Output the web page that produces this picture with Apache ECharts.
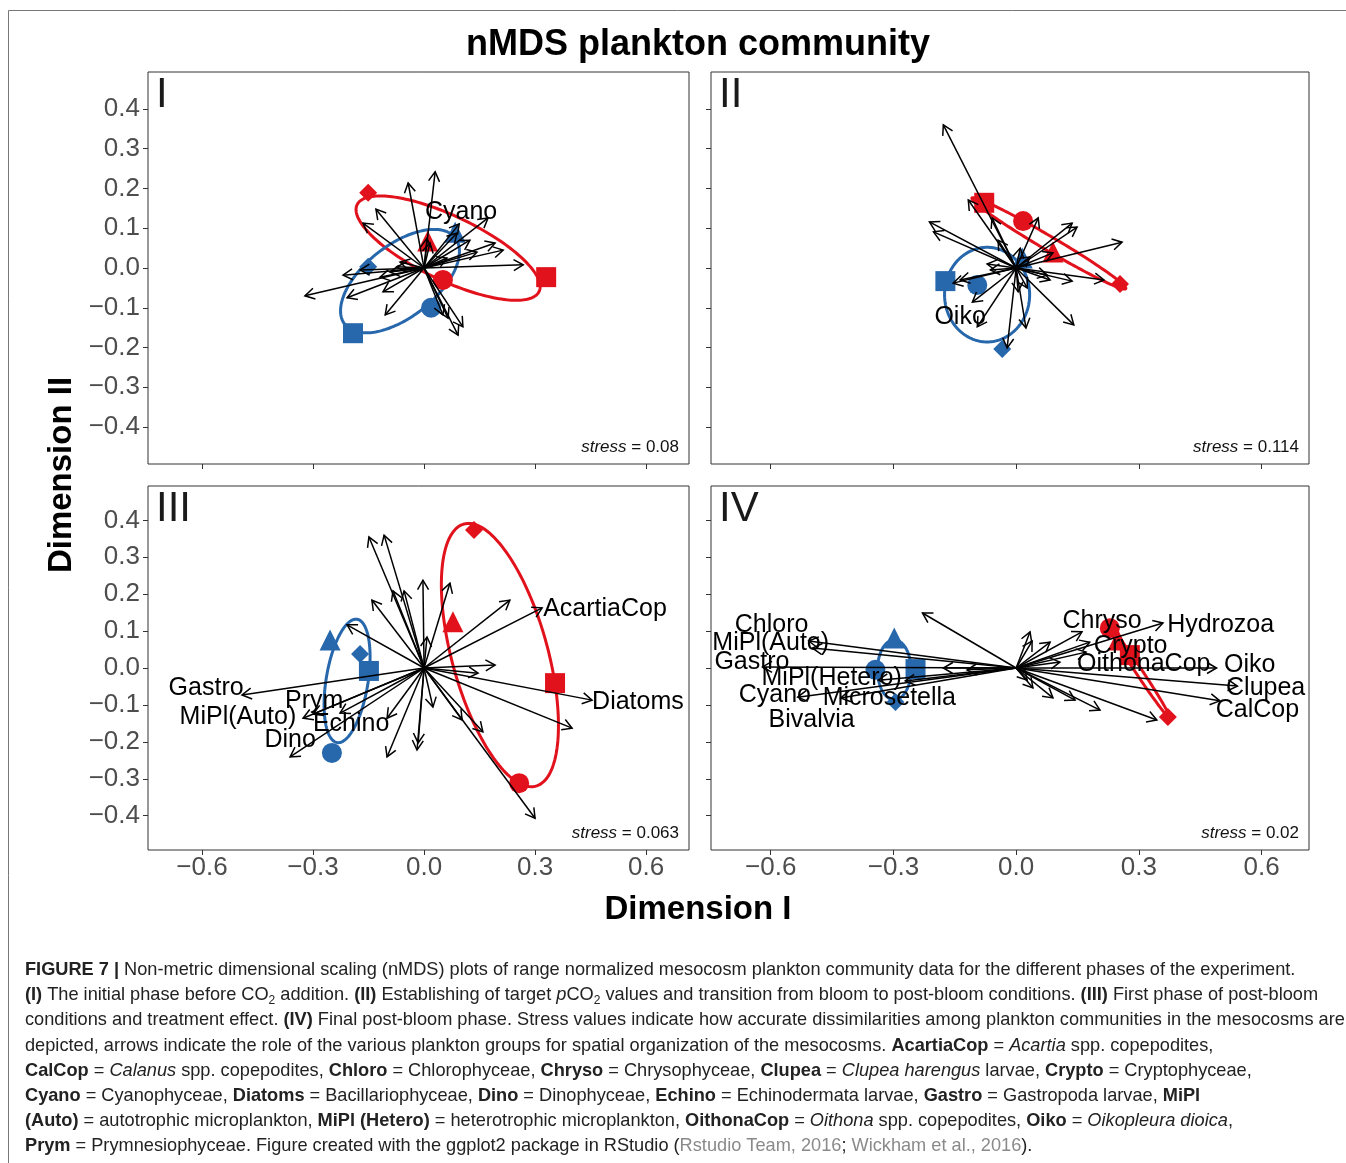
<!DOCTYPE html>
<html>
<head>
<meta charset="utf-8">
<script src="https://cdn.jsdelivr.net/npm/echarts@6/dist/echarts.min.js"></script>
<style>
html,body{margin:0;padding:0;background:#fff;}
#chart{width:1346px;height:1163px;}
</style>
</head>
<body>
<div id="chart"></div>
<script>
// ---------------- DATA ----------------
const xTicks = [-0.6, -0.3, 0, 0.3, 0.6];
const yTicks = [-0.4, -0.3, -0.2, -0.1, 0, 0.1, 0.2, 0.3, 0.4];
const xRange = [-0.746, 0.716];
const yRange = [-0.493, 0.493];
const panelNames = ['I', 'II', 'III', 'IV'];
const stressValues = ['0.08', '0.114', '0.063', '0.02'];
// point order: circle, square, triangle, diamond
const shapeOrder = ['circle', 'rect', 'triangle', 'diamond'];

// Panel I
const p1Blue = [[0.019, -0.100], [-0.192, -0.164], [0.084, 0.090], [-0.151, 0.003]];
const p1Red = [[0.051, -0.030], [0.330, -0.023], [0.010, 0.068], [-0.151, 0.189]];
const p1BlueEllipse = [-0.065, -0.033, 0.149, 0.109, 0.060, -0.071];
const p1RedEllipse = [0.065, 0.050, 0.246, -0.109, 0.037, 0.073];
const p1Arrows = [[0.030, 0.242], [-0.043, 0.214], [-0.130, 0.148], [-0.165, 0.113], [0.173, 0.126], [0.095, 0.111],
  [0.089, 0.088], [0.192, 0.063], [0.214, 0.045], [0.268, 0.008], [-0.219, -0.018], [-0.322, -0.070], [-0.208, -0.075],
  [-0.111, -0.060], [-0.105, -0.118], [0.065, -0.126], [0.105, -0.148], [0.092, -0.169], [0.051, -0.118], [-0.073, 0.003],
  [-0.119, -0.023], [0.062, 0.025], [0.143, 0.040], [0.016, 0.063], [-0.092, -0.010], [-0.065, 0.015], [0.124, 0.070],
  [0.008, 0.075], [-0.173, -0.005]];
const p1Labels = [['Cyano', 0.100, 0.141]];

// Panel II
const p2Blue = [[-0.095, -0.043], [-0.173, -0.033], [0.015, 0.025], [-0.034, -0.204]];
const p2Red = [[0.017, 0.118], [-0.078, 0.164], [0.090, 0.040], [0.254, -0.040]];
const p2BlueEllipse = [-0.071, -0.067, 0.104, 0, 0, 0.119];
const p2RedEllipse = [0.080, 0.062, 0.188, -0.114, -0.0087, -0.0151];
const p2Arrows = [[-0.178, 0.360], [-0.117, 0.171], [-0.212, 0.116], [-0.202, 0.091], [-0.059, 0.126], [-0.044, 0.070],
  [0.054, 0.126], [0.137, 0.113], [0.149, 0.103], [0.259, 0.065], [0.215, -0.030], [0.137, -0.033], [0.141, -0.143],
  [0.024, -0.151], [-0.022, -0.201], [-0.095, -0.148], [-0.107, -0.086], [-0.137, -0.030], [-0.154, -0.038],
  [-0.071, 0.010], [-0.063, -0.005], [0.083, -0.030], [0.027, -0.050], [0.090, 0.038], [0.010, 0.050], [0.034, 0.028],
  [0.076, -0.018], [0.005, -0.060]];
const p2Labels = [['Oiko', -0.137, -0.123]];

// Panel III
const p3Blue = [[-0.249, -0.230], [-0.149, -0.008], [-0.254, 0.076], [-0.173, 0.038]];
const p3Red = [[0.257, -0.312], [0.354, -0.041], [0.078, 0.125], [0.135, 0.374]];
const p3BlueEllipse = [-0.208, -0.035, 0.027, 0.167, 0.056, -0.009];
const p3RedEllipse = [0.205, 0.035, 0.097, -0.355, 0.125, 0.034];
const p3Arrows = [[-0.149, 0.355], [-0.108, 0.360], [-0.084, 0.209], [-0.054, 0.209], [-0.141, 0.184], [-0.208, 0.117],
  [-0.492, -0.073], [-0.327, -0.136], [-0.300, -0.125], [-0.362, -0.241], [-0.100, -0.136], [-0.100, -0.241],
  [-0.016, -0.203], [-0.003, 0.238], [0.070, 0.230], [0.232, 0.184], [0.319, 0.163], [0.192, 0.008], [0.146, -0.014],
  [0.454, -0.087], [0.400, -0.163], [0.300, -0.407], [0.159, -0.173], [0.103, -0.141], [0.024, -0.106], [0.008, 0.084],
  [-0.227, -0.122], [-0.019, -0.222]];
const p3Labels = [['Gastro', -0.589, -0.054], ['Prym', -0.297, -0.089], ['MiPl(Auto)', -0.503, -0.133],
  ['Echino', -0.197, -0.152], ['Dino', -0.362, -0.195], ['AcartiaCop', 0.489, 0.160], ['Diatoms', 0.578, -0.092]];

// Panel IV
const p4Blue = [[-0.344, -0.005], [-0.246, -0.003], [-0.298, 0.081], [-0.295, -0.092]];
const p4Red = [[0.229, 0.108], [0.278, 0.035], [0.249, 0.076], [0.371, -0.133]];
const p4BlueEllipse = [-0.298, -0.005, 0.041, 0, 0, 0.081];
const p4RedEllipse = [0.300, -0.009, 0.0756, -0.126, 0.006, 0.006];
const p4Arrows = [[-0.507, 0.073], [-0.498, 0.054], [-0.620, 0.003], [-0.337, -0.033], [-0.534, -0.079], [-0.429, -0.081],
  [-0.229, 0.149], [-0.178, 0.000], [-0.120, -0.005], [-0.271, -0.035], [0.034, 0.098], [0.039, 0.073], [0.083, 0.070],
  [0.161, 0.098], [0.359, 0.122], [0.180, 0.070], [0.171, 0.043], [0.107, 0.016], [0.490, 0.000], [0.541, -0.049],
  [0.498, -0.089], [0.344, -0.141], [0.205, -0.114], [0.144, -0.087], [0.090, -0.081], [0.041, -0.054], [0.027, -0.033]];
const p4Labels = [['Chloro', -0.598, 0.117], ['MiPl(Auto)', -0.600, 0.068], ['Gastro', -0.646, 0.016],
  ['MiPl(Hetero)', -0.451, -0.027], ['Cyano', -0.590, -0.073], ['Microsetella', -0.310, -0.081],
  ['Bivalvia', -0.500, -0.141], ['Chryso', 0.210, 0.127], ['Hydrozoa', 0.500, 0.117], ['Crypto', 0.280, 0.060],
  ['OithonaCop', 0.312, 0.011], ['Oiko', 0.571, 0.008], ['Clupea', 0.610, -0.054], ['CalCop', 0.590, -0.114]];

const captionLines = [
  '{b|FIGURE 7 |} Non-metric dimensional scaling (nMDS) plots of range normalized mesocosm plankton community data for the different phases of the experiment.',
  '{b|(I)} The initial phase before CO{s|2} addition. {b|(II)} Establishing of target {i|p}CO{s|2} values and transition from bloom to post-bloom conditions. {b|(III)} First phase of post-bloom',
  'conditions and treatment effect. {b|(IV)} Final post-bloom phase. Stress values indicate how accurate dissimilarities among plankton communities in the mesocosms are',
  'depicted, arrows indicate the role of the various plankton groups for spatial organization of the mesocosms. {b|AcartiaCop} = {i|Acartia} spp. copepodites,',
  '{b|CalCop} = {i|Calanus} spp. copepodites, {b|Chloro} = Chlorophyceae, {b|Chryso} = Chrysophyceae, {b|Clupea} = {i|Clupea harengus} larvae, {b|Crypto} = Cryptophyceae,',
  '{b|Cyano} = Cyanophyceae, {b|Diatoms} = Bacillariophyceae, {b|Dino} = Dinophyceae, {b|Echino} = Echinodermata larvae, {b|Gastro} = Gastropoda larvae, {b|MiPl}',
  '{b|(Auto)} = autotrophic microplankton, {b|MiPl (Hetero)} = heterotrophic microplankton, {b|OithonaCop} = {i|Oithona} spp. copepodites, {b|Oiko} = {i|Oikopleura dioica},',
  '{b|Prym} = Prymnesiophyceae. Figure created with the ggplot2 package in RStudio ({g|Rstudio Team, 2016}; {g|Wickham et al., 2016}).'
];

// ---------------- STYLE / LAYOUT ----------------
const FONT = 'Liberation Sans, Arial, sans-serif';
const RED = '#e2121c';
const BLUE = '#2767ac';
const CAP = 18.2;
const grids = [
  {left: 148, top: 72, width: 541, height: 392},
  {left: 711, top: 72, width: 598, height: 392},
  {left: 148, top: 486, width: 541, height: 364},
  {left: 711, top: 486, width: 598, height: 364}
];
const panels = [
  {blue: p1Blue, red: p1Red, be: p1BlueEllipse, re: p1RedEllipse, arrows: p1Arrows, labels: p1Labels},
  {blue: p2Blue, red: p2Red, be: p2BlueEllipse, re: p2RedEllipse, arrows: p2Arrows, labels: p2Labels},
  {blue: p3Blue, red: p3Red, be: p3BlueEllipse, re: p3RedEllipse, arrows: p3Arrows, labels: p3Labels},
  {blue: p4Blue, red: p4Red, be: p4BlueEllipse, re: p4RedEllipse, arrows: p4Arrows, labels: p4Labels}
];

function fmt(v) {
  const s = Math.abs(v).toFixed(1);
  return (v < -1e-9 ? '\u2212' : '') + s;
}

const xAxes = grids.map((g, i) => ({
  type: 'value', gridIndex: i, min: xRange[0], max: xRange[1], position: 'bottom',
  axisLine: {show: false, onZero: false},
  splitLine: {show: false},
  axisTick: {show: true, length: 5, customValues: xTicks, lineStyle: {color: '#333', width: 1}},
  axisLabel: {show: i >= 2, customValues: xTicks, formatter: fmt, fontSize: 26, color: '#4d4d4d', fontFamily: FONT, margin: 5}
}));
const yAxes = grids.map((g, i) => ({
  type: 'value', gridIndex: i, min: yRange[0], max: yRange[1], position: 'left',
  axisLine: {show: false, onZero: false},
  splitLine: {show: false},
  axisTick: {show: true, length: 5, customValues: yTicks, lineStyle: {color: '#333', width: 1}},
  axisLabel: {show: i % 2 === 0, customValues: yTicks, formatter: fmt, fontSize: 26, color: '#4d4d4d', fontFamily: FONT, margin: 8}
}));

function ellipseSeries(params, color, idx) {
  return {
    type: 'custom', xAxisIndex: idx, yAxisIndex: idx, silent: true, z: 1,
    data: [params],
    renderItem: function (p, api) {
      const cx = api.value(0), cy = api.value(1);
      const c = api.coord([cx, cy]);
      const pu = api.coord([cx + api.value(2), cy + api.value(3)]);
      const pv = api.coord([cx + api.value(4), cy + api.value(5)]);
      const du = [pu[0] - c[0], pu[1] - c[1]], dv = [pv[0] - c[0], pv[1] - c[1]];
      const pts = [];
      for (let k = 0; k < 180; k++) {
        const t = k / 180 * Math.PI * 2;
        pts.push([c[0] + du[0] * Math.cos(t) + dv[0] * Math.sin(t), c[1] + du[1] * Math.cos(t) + dv[1] * Math.sin(t)]);
      }
      return {type: 'polygon', shape: {points: pts}, style: {stroke: color, fill: null, lineWidth: 3}};
    }
  };
}

function pointSeries(data, color, idx) {
  return {
    type: 'scatter', xAxisIndex: idx, yAxisIndex: idx, silent: true, z: 2,
    data: data,
    symbol: function (v, p) { return shapeOrder[p.dataIndex]; },
    symbolSize: function (v, p) { return [20, 20, 21, 18][p.dataIndex]; },
    itemStyle: {color: color, opacity: 1}
  };
}

function arrowSeries(data, idx) {
  return {
    type: 'custom', xAxisIndex: idx, yAxisIndex: idx, silent: true, z: 3,
    data: data,
    renderItem: function (p, api) {
      const o = api.coord([0, 0]);
      const t = api.coord([api.value(0), api.value(1)]);
      const ang = Math.atan2(t[1] - o[1], t[0] - o[0]);
      const L = 11, a = Math.PI / 6;
      const h1 = [t[0] - L * Math.cos(ang - a), t[1] - L * Math.sin(ang - a)];
      const h2 = [t[0] - L * Math.cos(ang + a), t[1] - L * Math.sin(ang + a)];
      return {type: 'group', children: [
        {type: 'line', shape: {x1: o[0], y1: o[1], x2: t[0], y2: t[1]}, style: {stroke: '#000', lineWidth: 1.5}},
        {type: 'polyline', shape: {points: [h1, t, h2]}, style: {stroke: '#000', fill: null, lineWidth: 1.5}}
      ]};
    }
  };
}

function labelSeries(labels, idx) {
  return {
    type: 'custom', xAxisIndex: idx, yAxisIndex: idx, silent: true, z: 4,
    data: labels.map(l => [l[1], l[2]]),
    renderItem: function (p, api) {
      const c = api.coord([api.value(0), api.value(1)]);
      return {type: 'text', x: c[0], y: c[1], style: {text: labels[p.dataIndex][0], fill: '#000',
        fontSize: 25, fontFamily: FONT, align: 'center', verticalAlign: 'middle', textAlign: 'center', textVerticalAlign: 'middle'}};
    }
  };
}

const series = [];
panels.forEach((pn, i) => {
  series.push(ellipseSeries(pn.re, RED, i));
  series.push(ellipseSeries(pn.be, BLUE, i));
  series.push(pointSeries(pn.red, RED, i));
  series.push(pointSeries(pn.blue, BLUE, i));
  series.push(arrowSeries(pn.arrows, i));
  series.push(labelSeries(pn.labels, i));
});

const graphics = [];
// figure frame
graphics.push({type: 'rect', shape: {x: 8.5, y: 10.5, width: 1400, height: 1200}, style: {stroke: '#777', fill: null, lineWidth: 1}, silent: true});
// title & axis names
graphics.push({type: 'text', x: 698, y: 45, style: {text: 'nMDS plankton community', fontSize: 36, fontWeight: 'bold', fontFamily: FONT, fill: '#000', align: 'center', verticalAlign: 'middle'}});
graphics.push({type: 'text', x: 698, y: 910, style: {text: 'Dimension I', fontSize: 33, fontWeight: 'bold', fontFamily: FONT, fill: '#000', align: 'center', verticalAlign: 'middle'}});
graphics.push({type: 'text', x: 62, y: 475, rotation: Math.PI / 2, style: {text: 'Dimension II', fontSize: 33, fontWeight: 'bold', fontFamily: FONT, fill: '#000', align: 'center', verticalAlign: 'middle'}});
// panel labels & stress
grids.forEach((g, i) => {
  graphics.push({type: 'text', x: g.left + 8, y: g.top + 23, style: {text: panelNames[i], fontSize: 42, fontFamily: FONT, fill: '#1a1a1a', align: 'left', verticalAlign: 'middle'}});
  graphics.push({type: 'text', x: g.left + g.width - 10, y: g.top + g.height - 17, style: {
    text: '{i|stress} = ' + stressValues[i], fontSize: 17, fontFamily: FONT, fill: '#111', align: 'right', verticalAlign: 'middle',
    rich: {i: {fontStyle: 'italic', fontSize: 17, fontFamily: FONT, fill: '#111'}}}});
});
// caption
captionLines.forEach((line, k) => {
  graphics.push({type: 'text', x: 25, y: 970 + k * 25.2, style: {
    text: line, fontSize: CAP, fontFamily: FONT, fill: '#222', align: 'left', verticalAlign: 'middle', lineHeight: 22,
    rich: {
      b: {fontWeight: 'bold', fontSize: CAP, fontFamily: FONT, fill: '#222', lineHeight: 22},
      i: {fontStyle: 'italic', fontSize: CAP, fontFamily: FONT, fill: '#222', lineHeight: 22},
      s: {fontSize: 12, fontFamily: FONT, fill: '#222', lineHeight: 12, verticalAlign: 'bottom'},
      g: {fontSize: CAP, fontFamily: FONT, fill: '#8a8a8a', lineHeight: 22}
    }}});
});

const chart = echarts.init(document.getElementById('chart'), null, {renderer: 'canvas'});
chart.setOption({
  animation: false,
  backgroundColor: '#fff',
  textStyle: {fontFamily: FONT},
  grid: grids.map(g => Object.assign({show: true, borderColor: '#333', borderWidth: 1, backgroundColor: 'transparent', containLabel: false, outerBoundsMode: 'none'}, g)),
  xAxis: xAxes,
  yAxis: yAxes,
  series: series,
  graphic: graphics
});
</script>
</body>
</html>
